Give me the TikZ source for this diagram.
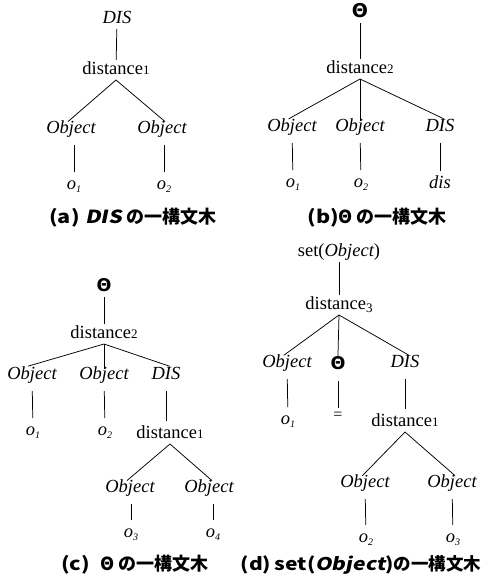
\documentclass[tikz,border=0pt]{standalone}
\usepackage{fontspec}
\setmainfont{Liberation Serif}
\newfontfamily\dvs{DejaVu Sans}
\newfontfamily\cjk{Noto Sans CJK JP}
\newfontfamily\cjklat{Noto Sans CJK JP}[FakeStretch=1.2]
\newfontfamily\cjklatit{Noto Sans CJK JP}[FakeStretch=1.2,FakeSlant=0.2]
\newcommand\dig[1]{{\fontsize{13}{14}\selectfont #1}}
\newcommand\digd[1]{\raisebox{-3pt}{\fontsize{13}{14}\selectfont #1}}
\newcommand\osub[1]{{\itshape o}\raisebox{-3.5pt}{\fontsize{10}{11}\selectfont\itshape #1}}
\newcommand\thb{{\dvs\bfseries Θ}}
\begin{document}
\begin{tikzpicture}[x=1pt,y=-1pt,
  lab/.style={anchor=base, inner sep=1pt, outer sep=0pt, text height=13pt, text depth=5pt, font=\fontsize{18.5}{20}\selectfont},
  thlab/.style={lab, font=\fontsize{17.5}{19}\selectfont},
  eqlab/.style={inner sep=1pt, outer sep=0pt, font=\fontsize{16}{17}\selectfont},
  captxt/.style={inner sep=0pt, font=\cjk\bfseries\fontsize{18}{20}\selectfont},
  treeline/.style={line width=0.75pt},
  slant/.style={treeline, shorten >=-4pt},
  childline/.style={treeline, shorten <=6pt, shorten >=3pt}]
\useasboundingbox (0,0) rectangle (483,579);
% (a)
\node[lab] (aR) at (117,23) {\itshape DIS};
\node[lab] (aD) at (116,74) {distance\dig{1}};
\node[lab] (aO1) at (71,133) {\itshape Object};
\node[lab] (aO2) at (162,133) {\itshape Object};
\node[lab] (ao1) at (74,189) {\osub{1}};
\node[lab] (ao2) at (164,189) {\osub{2}};
\node[captxt] (aC) at (133,218) {{\cjklat (a)}\hspace{0.3em}{\cjklatit DIS}\hspace{0.25em}の一構文木};
\draw[treeline] (aR) -- (aD);
\draw[slant] (aD.south) -- (aO1.north);
\draw[slant] (aD.south) -- (aO2.north);
\draw[childline] (aO1.south -| ao1) -- (ao1);
\draw[childline] (aO2.south -| ao2) -- (ao2);
% (b)
\node[thlab, font=\fontsize{19}{20}\selectfont] (bR) at (360,17) {\thb};
\node[lab] (bD) at (360,73) {distance\dig{2}};
\node[lab] (bO1) at (292,131) {\itshape Object};
\node[lab] (bO2) at (360,131) {\itshape Object};
\node[lab] (bDIS) at (440,131) {\itshape DIS};
\node[lab] (bo1) at (293,187) {\osub{1}};
\node[lab] (bo2) at (361,187) {\osub{2}};
\node[lab] (bdis) at (440,188) {\itshape dis};
\node[captxt] (bC) at (377,218) {{\cjklat (b)}Θ\hspace{0.2em}の一構文木};
\draw[treeline] (bR) -- (bD);
\draw[slant] (bD.south) -- (bO1.north);
\draw[slant] (bD.south) -- (bO2.north);
\draw[slant] (bD.south) -- (bDIS.north);
\draw[childline] (bO1) -- (bo1);
\draw[childline] (bO2) -- (bo2);
\draw[childline] (bDIS) -- (bdis);
% (c)
\node[thlab] (cR) at (104,291) {\thb};
\node[lab] (cD) at (104,338) {distance\dig{2}};
\node[lab] (cO1) at (32,379) {\itshape Object};
\node[lab] (cO2) at (104,379) {\itshape Object};
\node[lab] (cDIS) at (166,379) {\itshape DIS};
\node[lab] (co1) at (33,435) {\osub{1}};
\node[lab] (co2) at (105,435) {\osub{2}};
\node[lab] (cD1) at (170,438) {distance\dig{1}};
\node[lab] (cO3) at (130,492) {\itshape Object};
\node[lab] (cO4) at (209,492) {\itshape Object};
\node[lab] (co3) at (131,537) {\osub{3}};
\node[lab] (co4) at (213,537) {\osub{4}};
\node[captxt] (cC) at (135,565) {{\cjklat (c)}\hspace{0.6em}Θ\hspace{0.2em}の一構文木};
\draw[treeline] (cR) -- (cD);
\draw[slant] (cD.south) -- (cO1.north);
\draw[slant] (cD.south) -- (cO2.north);
\draw[slant] (cD.south) -- (cDIS.north);
\draw[childline] (cO1) -- (co1);
\draw[childline] (cO2) -- (co2);
\draw[childline] (cDIS.south) -- (cDIS.south |- cD1.north);
\draw[slant] (cD1.south) -- (cO3.north);
\draw[slant] (cD1.south) -- (cO4.north);
\draw[childline] (cO3.south -| co3) -- (co3);
\draw[childline] (cO4.south -| co4) -- (co4);
% (d)
\node[lab] (dR) at (339,256) {set({\itshape Object})};
\node[lab] (dD) at (339,309) {distance\digd{3}};
\node[lab] (dO1) at (287,367) {\itshape Object};
\node[thlab] (dTh) at (338,369) {\thb};
\node[lab] (dDIS) at (405,367) {\itshape DIS};
\node[lab] (do1) at (288,424) {\osub{1}};
\node[eqlab] (dEq) at (338,416) {=};
\node[lab] (dD1) at (405,426) {distance\dig{1}};
\node[lab] (dO2) at (365,487) {\itshape Object};
\node[lab] (dO3) at (452,487) {\itshape Object};
\node[lab] (do2) at (366,542) {\osub{2}};
\node[lab] (do3) at (453,542) {\osub{3}};
\node[captxt, font=\cjk\bfseries\fontsize{17.5}{20}\selectfont] (dC) at (361,565) {{\cjklat (d)}\hspace{0.2em}{\cjklat set(}{\cjklatit Object}{\cjklat )}の一構文木};
\draw[treeline] (dR) -- (dD);
\draw[slant] (dD.south) -- (dO1.north);
\draw[slant] (dD.south) -- (dTh.north);
\draw[slant] (dD.south) -- (dDIS.north);
\draw[childline] (dO1) -- (do1);
\draw[childline] (dTh) -- (dEq);
\draw[childline] (dDIS.south) -- (dDIS.south |- dD1.north);
\draw[slant] (dD1.south) -- (dO2.north);
\draw[slant] (dD1.south) -- (dO3.north);
\draw[childline] (dO2) -- (do2);
\draw[childline] (dO3) -- (do3);
\end{tikzpicture}
\end{document}
